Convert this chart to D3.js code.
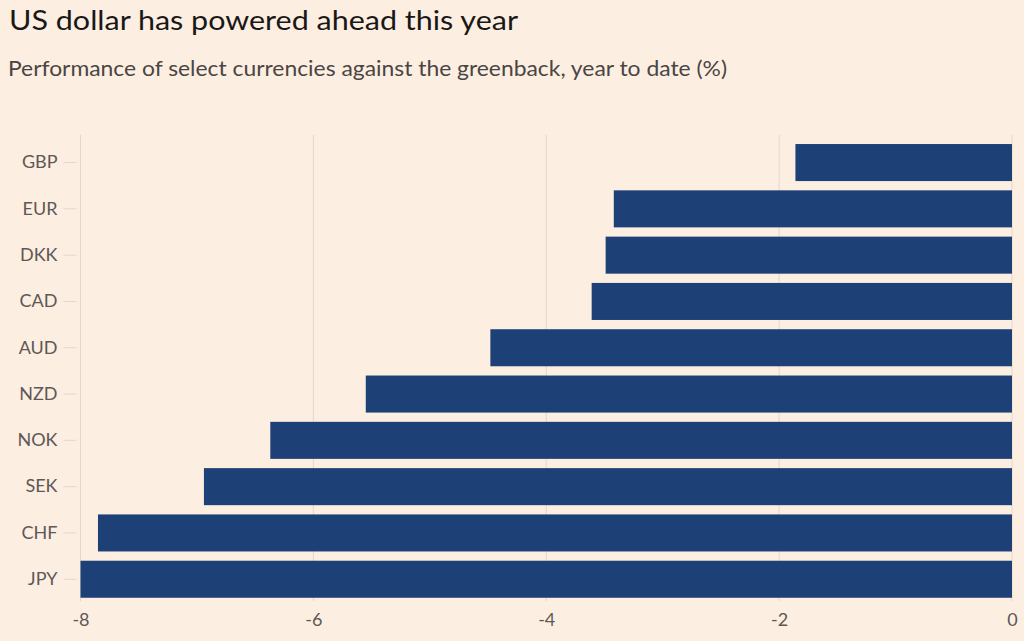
<!DOCTYPE html>
<html>
<head>
<meta charset="utf-8">
<script src="https://cdn.jsdelivr.net/npm/d3@7"></script>
<style>
  html, body { margin: 0; padding: 0; background: #fdeee2; }
  svg { display: block; }
</style>
</head>
<body>
<svg id="chart"></svg>
<script>
const currencies = ['GBP', 'EUR', 'DKK', 'CAD', 'AUD', 'NZD', 'NOK', 'SEK', 'CHF', 'JPY'];
const changes = [-1.86, -3.42, -3.49, -3.61, -4.48, -5.55, -6.37, -6.94, -7.85, -8.0];
const xTicks = [-8, -6, -4, -2, 0];

const width = 1024, height = 641;
const margin = { top: 139.4, right: 12, bottom: 38.6, left: 80.5 };

const svg = d3.select('#chart')
  .attr('width', width)
  .attr('height', height);

svg.append('rect')
  .attr('width', width).attr('height', height)
  .attr('fill', '#fdeee2');

// Titles
svg.append('text')
  .attr('x', 9).attr('y', 30)
  .attr('fill', '#1a1817')
  .attr('textLength', 509)
  .attr('lengthAdjust', 'spacingAndGlyphs')
  .style('font-family', 'Lato, sans-serif')
  .style('font-size', '27px')
  .text('US dollar has powered ahead this year');

svg.append('text')
  .attr('x', 8).attr('y', 76)
  .attr('fill', '#4a4543')
  .attr('textLength', 719)
  .attr('lengthAdjust', 'spacingAndGlyphs')
  .style('font-family', 'Lato, sans-serif')
  .style('font-size', '21px')
  .text('Performance of select currencies against the greenback, year to date (%)');

const x = d3.scaleLinear()
  .domain([-8, 0])
  .range([margin.left, width - margin.right]);

const y = d3.scaleBand()
  .domain(currencies)
  .range([margin.top, height - margin.bottom])
  .paddingInner(0.2)
  .paddingOuter(0.1);

// Gridlines
svg.append('g')
  .selectAll('line')
  .data(xTicks)
  .join('line')
  .attr('x1', d => x(d)).attr('x2', d => x(d))
  .attr('y1', 135).attr('y2', 601)
  .attr('stroke', '#e3d6cc')
  .attr('stroke-width', 1);

// Bars
svg.append('g')
  .selectAll('rect')
  .data(currencies.map((c, i) => ({ c, v: changes[i] })))
  .join('rect')
  .attr('x', d => x(d.v))
  .attr('y', d => y(d.c))
  .attr('width', d => x(0) - x(d.v))
  .attr('height', y.bandwidth())
  .attr('fill', '#1d4177');

// X axis
const xAxis = svg.append('g')
  .attr('transform', `translate(0, ${height - margin.bottom})`)
  .call(d3.axisBottom(x).tickValues(xTicks).tickSize(0).tickPadding(11).tickFormat(d => String(d)));
xAxis.select('.domain').remove();
xAxis.selectAll('text')
  .attr('fill', '#5e5856')
  .style('font-family', 'Lato, sans-serif')
  .style('font-size', '18px');

// Y axis
const yAxis = svg.append('g')
  .attr('transform', `translate(${margin.left - 4}, 0)`)
  .call(d3.axisLeft(y).tickSize(13).tickPadding(6));
yAxis.select('.domain').remove();
yAxis.selectAll('line').attr('stroke', '#e3d6cc');
yAxis.selectAll('text')
  .attr('fill', '#5e5856')
  .style('font-family', 'Lato, sans-serif')
  .style('font-size', '18px');
</script>
</body>
</html>
